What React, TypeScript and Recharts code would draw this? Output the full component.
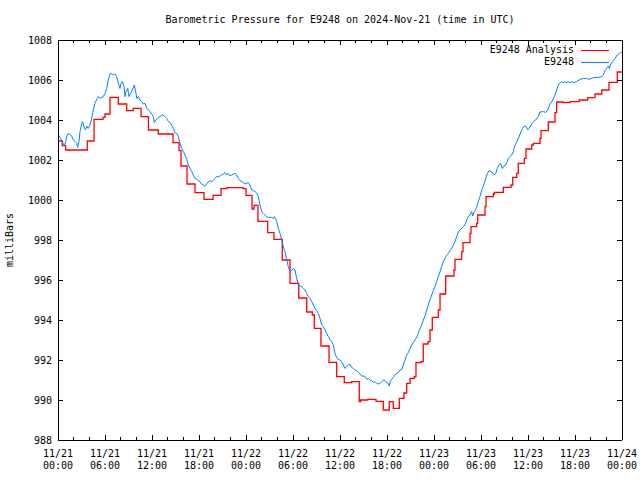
import React from "react";
import { LineChart, Line, XAxis, YAxis, Legend } from "recharts";

const FONT = "'DejaVu Sans Mono', 'Liberation Mono', monospace";
const RED = "#ff0000";
const BLUE = "#0080ff";

// analysis (hourly model value, drawn as steps) - hours since 11/21 00:00 UTC
const analysisHours = [
  0, 0.55, 0.98, 3.74, 4.6, 5.74, 6.0, 6.64, 7.7, 8.77,
  9.61, 10.6, 11.55, 12.8, 14.68, 15.45, 15.7, 16.47, 17.49, 18.64,
  19.79, 20.81, 21.57, 23.62, 24.0, 24.77, 25.02, 25.53, 26.77, 27.57,
  28.63, 29.62, 30.73, 31.75, 32.46, 32.72, 33.57, 34.6, 35.58, 36.55,
  37.49, 38.46, 38.64, 39.54, 40.6, 41.53, 42.29, 42.8, 43.57, 44.17,
  44.51, 44.94, 45.49, 45.7, 46.34, 46.63, 47.23, 47.49, 47.78, 48.55,
  48.77, 49.49, 50.55, 50.68, 51.54, 51.7, 52.6, 52.72, 53.45, 53.58,
  54.51, 54.64, 55.57, 55.7, 56.85, 57.83, 58.05, 58.56, 58.76, 59.53,
  59.74, 60.47, 60.68, 61.53, 61.66, 62.59, 63.45, 63.66, 64.47, 65.36,
  66.55, 67.62, 68.55, 69.41, 70.34, 71.4, 72,
];
const analysisMb = [
  1002.95, 1002.72, 1002.5, 1002.95, 1004.03, 1004.13, 1004.3, 1005.13, 1004.8, 1004.47,
  1004.58, 1004.17, 1003.5, 1003.3, 1002.87, 1002.47, 1001.7, 1000.8, 1000.37, 1000.03,
  1000.23, 1000.57, 1000.62, 1000.57, 1000.23, 999.55, 999.73, 998.93, 998.37, 998.03,
  997.0, 995.83, 995.1, 994.4, 994.25, 993.58, 992.7, 991.88, 991.17, 990.87,
  990.92, 989.92, 990.0, 990.03, 989.93, 989.5, 989.92, 989.58, 990.08, 990.35,
  990.83, 991.08, 991.17, 991.87, 991.92, 992.8, 992.92, 993.5, 994.13, 994.5,
  995.3, 996.2, 996.5, 997.03, 997.42, 997.87, 998.33, 998.67, 998.83, 999.25,
  999.67, 1000.17, 1000.3, 1000.38, 1000.63, 1000.75, 1001.13, 1001.33, 1001.83, 1002.08,
  1002.55, 1002.75, 1002.83, 1003.08, 1003.47, 1003.9, 1004.37, 1004.9, 1004.87, 1004.92,
  1005.0, 1005.12, 1005.3, 1005.5, 1005.88, 1006.4, 1006.4,
];

// station observations
const stationHours = [
  0, 0.6, 0.68, 0.8, 0.98, 1.11, 1.31, 1.75, 1.95, 2.17,
  2.39, 2.51, 2.68, 2.81, 2.94, 3.1, 3.23, 3.36, 3.54, 3.66,
  3.87, 4.09, 4.3, 4.51, 4.72, 4.94, 5.14, 5.36, 5.58, 5.78,
  6.0, 6.22, 6.42, 6.64, 6.86, 7.06, 7.28, 7.49, 7.7, 7.91,
  8.04, 8.21, 8.43, 8.55, 8.68, 8.9, 9.06, 9.32, 9.49, 9.74,
  9.92, 10.05, 10.25, 10.47, 10.69, 10.89, 11.11, 11.32, 11.53, 11.74,
  11.96, 12.17, 12.29, 12.47, 12.73, 13.02, 13.31, 13.57, 13.88, 14.0,
  14.3, 14.51, 14.72, 14.94, 15.15, 15.36, 15.57, 15.79, 16.0, 16.21,
  16.43, 16.63, 16.85, 17.07, 17.27, 17.49, 17.71, 17.91, 18.13, 18.34,
  18.55, 18.77, 18.98, 19.19, 19.4, 19.62, 19.83, 20.04, 20.26, 20.46,
  20.68, 20.9, 21.1, 21.32, 21.54, 21.74, 21.96, 22.17, 22.38, 22.6,
  22.81, 23.02, 23.23, 23.45, 23.66, 23.87, 24.09, 24.29, 24.51, 24.73,
  24.93, 25.15, 25.37, 25.57, 25.79, 26.0, 26.21, 26.43, 26.64, 26.85,
  27.28, 27.49, 27.61, 27.79, 27.92, 28.12, 28.34, 28.56, 28.76, 28.98,
  29.19, 29.4, 29.62, 29.83, 30.04, 30.26, 30.47, 30.68, 30.89, 31.11,
  31.31, 31.53, 31.75, 31.95, 32.17, 32.39, 32.59, 32.81, 33.03, 33.23,
  33.45, 33.66, 33.87, 34.09, 34.3, 34.51, 34.72, 34.94, 35.14, 35.36,
  35.58, 35.78, 36.0, 36.22, 36.42, 36.64, 36.85, 37.06, 37.28, 37.49,
  37.7, 37.91, 38.13, 38.34, 38.55, 38.77, 38.97, 39.19, 39.41, 39.61,
  39.83, 40.05, 40.25, 40.47, 40.68, 40.89, 41.11, 41.32, 41.53, 41.74,
  41.96, 42.17, 42.29, 42.42, 42.6, 42.8, 43.02, 43.24, 43.44, 43.66,
  43.88, 44.08, 44.3, 44.51, 44.72, 44.94, 45.15, 45.36, 45.57, 45.79,
  45.99, 46.21, 46.43, 46.63, 46.85, 47.07, 47.27, 47.49, 47.71, 47.91,
  48.13, 48.34, 48.55, 48.77, 48.98, 49.19, 49.4, 49.62, 49.83, 50.04,
  50.26, 50.46, 50.68, 50.9, 51.1, 51.32, 51.54, 51.74, 51.96, 52.17,
  52.38, 52.6, 52.81, 52.94, 53.15, 53.32, 53.45, 53.66, 53.87, 54.0,
  54.17, 54.43, 54.61, 54.81, 55.03, 55.28, 55.49, 55.7, 55.88, 56.08,
  56.3, 56.51, 56.72, 56.94, 57.15, 57.36, 57.49, 57.7, 57.92, 58.12,
  58.25, 58.47, 58.68, 58.89, 59.11, 59.32, 59.53, 59.74, 59.96, 60.13,
  60.38, 60.68, 60.98, 61.31, 61.53, 61.95, 62.26, 62.51, 62.81, 63.1,
  63.36, 63.66, 63.87, 64.09, 64.3, 64.51, 64.72, 64.94, 65.14, 65.36,
  65.58, 65.78, 66.21, 66.64, 67.06, 67.49, 67.7, 68.13, 68.55, 68.97,
  69.41, 69.62, 69.83, 70.04, 70.25, 70.38, 70.56, 70.81, 71.11, 71.4,
  71.66, 72.0,
];
const stationMb = [
  1003.3, 1002.92, 1002.75, 1002.7, 1002.92, 1003.17, 1003.33, 1003.2, 1003.0, 1002.92,
  1002.83, 1002.63, 1002.92, 1003.42, 1003.67, 1003.92, 1003.83, 1003.58, 1003.5, 1003.7,
  1003.58, 1003.75, 1004.08, 1004.5, 1004.83, 1005.03, 1005.17, 1005.08, 1005.13, 1005.17,
  1005.33, 1005.58, 1006.0, 1006.3, 1006.33, 1006.25, 1006.3, 1006.17, 1005.83, 1005.58,
  1005.83, 1005.92, 1005.67, 1005.17, 1005.42, 1005.58, 1005.17, 1005.37, 1005.5, 1005.75,
  1005.42, 1005.08, 1005.17, 1005.0, 1004.92, 1004.8, 1004.83, 1004.58, 1004.53, 1004.42,
  1004.3, 1004.17, 1003.87, 1004.0, 1004.08, 1004.17, 1004.25, 1004.2, 1004.08, 1003.97,
  1003.87, 1003.75, 1003.58, 1003.37, 1003.33, 1003.17, 1002.83, 1002.58, 1002.42, 1002.25,
  1002.03, 1001.75, 1001.58, 1001.42, 1001.25, 1001.08, 1001.03, 1000.97, 1000.92, 1000.8,
  1000.75, 1000.7, 1000.8, 1000.92, 1000.97, 1000.92, 1001.0, 1001.08, 1001.17, 1001.17,
  1001.2, 1001.25, 1001.3, 1001.37, 1001.25, 1001.33, 1001.2, 1001.25, 1001.3, 1001.33,
  1001.25, 1001.08, 1000.97, 1000.92, 1000.87, 1000.8, 1000.83, 1000.87, 1000.75, 1000.5,
  1000.47, 1000.42, 1000.35, 1000.17, 999.75, 999.42, 999.33, 999.25, 999.17, 999.13,
  999.13, 999.08, 999.17, 999.08, 998.92, 998.58, 998.33, 998.0, 997.67, 997.42,
  997.0, 996.67, 996.42, 996.47, 996.58, 996.5, 996.08, 995.75, 995.7, 995.67,
  995.58, 995.5, 995.33, 995.17, 995.08, 994.92, 994.75, 994.58, 994.45, 994.33,
  994.08, 993.75, 993.67, 993.5, 993.33, 993.17, 993.03, 992.92, 992.75, 992.33,
  992.12, 992.03, 992.0, 991.92, 991.75, 991.58, 991.67, 991.75, 991.78, 991.63,
  991.58, 991.5, 991.45, 991.37, 991.3, 991.2, 991.2, 991.17, 991.03, 991.08,
  991.0, 990.97, 990.87, 990.92, 990.83, 990.8, 990.83, 990.92, 991.0, 990.97,
  990.87, 990.83, 990.7, 990.92, 991.03, 991.13, 991.25, 991.33, 991.37, 991.5,
  991.53, 991.75, 992.0, 992.25, 992.37, 992.58, 992.75, 992.87, 993.0, 993.13,
  993.33, 993.58, 993.75, 994.0, 994.2, 994.5, 994.75, 995.03, 995.25, 995.47,
  995.67, 995.92, 996.17, 996.42, 996.67, 996.92, 997.08, 997.25, 997.33, 997.47,
  997.58, 997.75, 997.92, 998.17, 998.4, 998.5, 998.58, 998.67, 998.75, 999.0,
  999.17, 999.25, 999.42, 999.2, 999.42, 999.53, 999.67, 999.92, 1000.17, 1000.37,
  1000.58, 1000.83, 1001.08, 1001.33, 1001.47, 1001.42, 1001.37, 1001.25, 1001.33, 1001.58,
  1001.75, 1001.83, 1001.58, 1001.7, 1001.75, 1001.92, 1002.08, 1002.17, 1002.25, 1002.42,
  1002.63, 1002.83, 1003.0, 1003.2, 1003.42, 1003.58, 1003.7, 1003.67, 1003.5, 1003.58,
  1003.75, 1003.92, 1004.0, 1004.17, 1004.4, 1004.42, 1004.38, 1004.5, 1004.8, 1004.95,
  1005.17, 1005.5, 1005.75, 1005.85, 1005.92, 1005.87, 1005.92, 1005.87, 1005.92, 1005.87,
  1005.92, 1005.87, 1005.92, 1006.03, 1006.08, 1006.08, 1006.03, 1006.08, 1006.13, 1006.13,
  1006.17, 1006.25, 1006.47, 1006.58, 1006.7, 1006.58, 1006.8, 1006.92, 1007.08, 1007.25,
  1007.33, 1007.4,
];

const hourTicks = [
  0, 2, 4, 6, 8, 10, 12, 14, 16, 18, 20, 22, 24, 26, 28, 30, 32, 34, 36,
  38, 40, 42, 44, 46, 48, 50, 52, 54, 56, 58, 60, 62, 64, 66, 68, 70, 72,
];
const labelHours = [0, 6, 12, 18, 24, 30, 36, 42, 48, 54, 60, 66, 72];
const dateLabels = [
  "11/21", "11/21", "11/21", "11/21", "11/22", "11/22", "11/22",
  "11/22", "11/23", "11/23", "11/23", "11/23", "11/24",
];
const timeLabels = [
  "00:00", "06:00", "12:00", "18:00", "00:00", "06:00", "12:00",
  "18:00", "00:00", "06:00", "12:00", "18:00", "00:00",
];
const mbTicks = [988, 990, 992, 994, 996, 998, 1000, 1002, 1004, 1006, 1008];
const legendOrder = ["E9248 Analysis", "E9248"];

const analysisData = analysisHours.map((t, i) => ({ t, mb: analysisMb[i] }));
const stationData = stationHours.map((t, i) => ({ t, mb: stationMb[i] }));

const txt = { fontFamily: FONT, fontSize: 10, fill: "#000" };

function BottomTick({ x, y, payload }: any) {
  const i = labelHours.indexOf(payload.value);
  const len = i >= 0 ? 5 : 3;
  return (
    <g>
      <line x1={x} y1={y} x2={x} y2={y - len} stroke="#000" shapeRendering="crispEdges" />
      {i >= 0 && (
        <text x={x} y={y} textAnchor="middle" {...txt}>
          <tspan x={x} dy={17}>{dateLabels[i]}</tspan>
          <tspan x={x} dy={12}>{timeLabels[i]}</tspan>
        </text>
      )}
    </g>
  );
}

function TopTick({ x, y, payload }: any) {
  const len = labelHours.includes(payload.value) ? 5 : 3;
  return <line x1={x} y1={y} x2={x} y2={y + len} stroke="#000" shapeRendering="crispEdges" />;
}

function LeftTick({ x, y, payload }: any) {
  return (
    <g>
      <line x1={x} y1={y} x2={x + 5} y2={y} stroke="#000" shapeRendering="crispEdges" />
      <text x={x - 6} y={y} dy={3.5} textAnchor="end" {...txt}>
        {payload.value}
      </text>
    </g>
  );
}

function RightTick({ x, y }: any) {
  return <line x1={x} y1={y} x2={x - 5} y2={y} stroke="#000" shapeRendering="crispEdges" />;
}

function TitleLabel({ viewBox }: any) {
  return (
    <text x={viewBox.x + viewBox.width / 2} y={viewBox.y + 23} textAnchor="middle" {...txt}>
      Barometric Pressure for E9248 on 2024-Nov-21 (time in UTC)
    </text>
  );
}

function UnitLabel({ viewBox }: any) {
  const cx = viewBox.x + 13;
  const cy = viewBox.y + viewBox.height / 2;
  return (
    <text x={cx} y={cy} textAnchor="middle" transform={`rotate(-90 ${cx} ${cy})`} {...txt}>
      milliBars
    </text>
  );
}

function LegendBox({ payload }: any) {
  const items = [...(payload || [])].sort(
    (a: any, b: any) => legendOrder.indexOf(a.value) - legendOrder.indexOf(b.value)
  );
  return (
    <div style={{ fontFamily: FONT, fontSize: 10, lineHeight: "12px", color: "#000" }}>
      {items.map((e: any) => (
        <div key={e.value} style={{ display: "flex", alignItems: "center", justifyContent: "flex-end", height: 12 }}>
          <span>{e.value}</span>
          <span style={{ display: "inline-block", width: 28, marginLeft: 7, borderTop: `1px solid ${e.color}` }} />
        </div>
      ))}
    </div>
  );
}

export default function App() {
  return (
    <div style={{ position: "absolute", left: 0, top: 0, width: 640, height: 480, background: "#fff" }}>
      <LineChart width={640} height={480} margin={{ top: 0, right: 0, bottom: 0, left: 0 }}>
        <XAxis
          xAxisId="bottom"
          type="number"
          dataKey="t"
          domain={[0, 72]}
          allowDataOverflow
          ticks={hourTicks}
          interval={0}
          height={40}
          tickSize={0}
          tickMargin={0}
          tickLine={false}
          axisLine={{ stroke: "#000", shapeRendering: "crispEdges" }}
          tick={<BottomTick />}
        />
        <XAxis
          xAxisId="top"
          orientation="top"
          type="number"
          dataKey="t"
          domain={[0, 72]}
          allowDataOverflow
          ticks={hourTicks}
          interval={0}
          height={40}
          tickSize={0}
          tickMargin={0}
          tickLine={false}
          axisLine={{ stroke: "#000", shapeRendering: "crispEdges" }}
          tick={<TopTick />}
          label={TitleLabel}
        />
        <YAxis
          yAxisId="left"
          type="number"
          domain={[988, 1008]}
          allowDataOverflow
          ticks={mbTicks}
          interval={0}
          width={58}
          tickSize={0}
          tickMargin={0}
          tickLine={false}
          axisLine={{ stroke: "#000", shapeRendering: "crispEdges" }}
          tick={<LeftTick />}
          label={UnitLabel}
        />
        <YAxis
          yAxisId="right"
          orientation="right"
          type="number"
          domain={[988, 1008]}
          allowDataOverflow
          ticks={mbTicks}
          interval={0}
          width={18}
          tickSize={0}
          tickMargin={0}
          tickLine={false}
          axisLine={{ stroke: "#000", shapeRendering: "crispEdges" }}
          tick={<RightTick />}
        />
        <Legend
          layout="vertical"
          align="center"
          verticalAlign="middle"
          content={<LegendBox />}
          wrapperStyle={{ top: 44, right: 31, left: "auto", bottom: "auto", width: "auto" }}
        />
        <Line
          xAxisId="bottom"
          yAxisId="left"
          data={analysisData}
          dataKey="mb"
          name="E9248 Analysis"
          type="stepAfter"
          stroke={RED}
          strokeWidth={1.3}
          dot={false}
          activeDot={false}
          isAnimationActive={false}
        />
        <Line
          xAxisId="top"
          yAxisId="right"
          data={stationData}
          dataKey="mb"
          name="E9248"
          type="linear"
          stroke={BLUE}
          strokeWidth={1}
          dot={false}
          activeDot={false}
          isAnimationActive={false}
        />
      </LineChart>
    </div>
  );
}
